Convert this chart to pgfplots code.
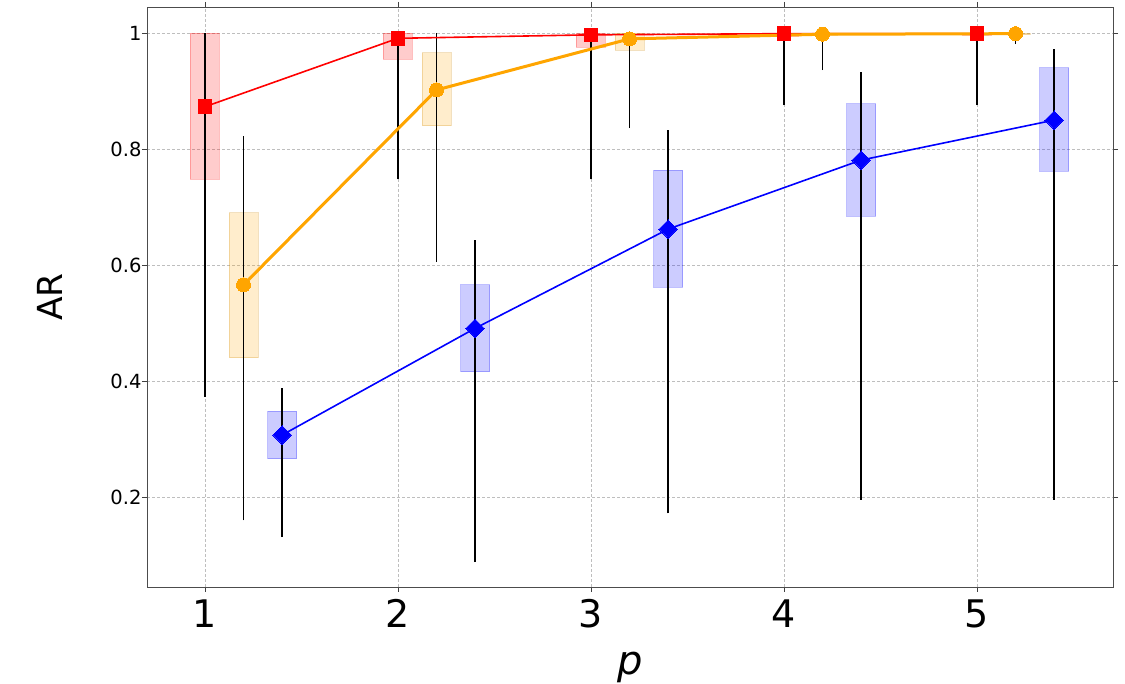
\documentclass[border=0pt]{standalone}
\usepackage{pgfplots}
\pgfplotsset{compat=1.18}
\usepackage{fontspec}
\setmainfont{DejaVu Sans}
\definecolor{mred}{RGB}{255,0,0}
\definecolor{morange}{RGB}{255,165,0}
\definecolor{mblue}{RGB}{0,0,255}
\definecolor{gridc}{RGB}{190,190,190}
\begin{document}
\begin{tikzpicture}[x=1pt,y=1pt]
\useasboundingbox (0,0) rectangle (1125,684);
\begin{axis}[
  at={(147pt,97pt)}, anchor=south west,
  scale only axis, width=966pt, height=580pt,
  xmin=0.70, xmax=5.705, ymin=0.045, ymax=1.045,
  xtick={1,2,3,4,5}, ytick={0.2,0.4,0.6,0.8,1},
  yticklabels={0.2,0.4,0.6,0.8,1},
  tick align=outside, major tick length=5pt,
  tick style={color=black!75, line width=0.8pt},
  axis line style={color=black!70, line width=0.8pt},
  grid=major, major grid style={dash pattern=on 3pt off 2pt, color=gridc, line width=0.7pt},
  /pgf/number format/assume math mode=true,
  xticklabel style={font=\fontsize{38}{40}\selectfont, yshift=-4pt},
  yticklabel style={font=\fontsize{19.5}{22}\selectfont, xshift=3pt},
  xlabel={\itshape p}, ylabel={AR},
  xlabel style={font=\fontsize{40}{44}\selectfont, at={(axis description cs:0.5,-0.138)}, anchor=center},
  ylabel style={font=\fontsize{34.5}{38}\selectfont, at={(axis description cs:-0.100,0.5)}, anchor=center, rotate=0},
  clip=true,
]
% ---- boxes (interquartile ranges) ----
\pgfplotsset{rbox/.style={fill=mred, fill opacity=0.2, draw=mred, draw opacity=0.25, line width=0.8pt},
             obox/.style={fill=morange, fill opacity=0.2, draw=morange!80!black, draw opacity=0.25, line width=0.8pt},
             bbox/.style={fill=mblue, fill opacity=0.2, draw=mblue, draw opacity=0.25, line width=0.8pt},
             wh/.style={black, line width=1.8pt}}
% red
\addplot[rbox] coordinates {(0.925,0.748) (1.075,0.748) (1.075,1.0) (0.925,1.0)} --cycle;
\addplot[rbox] coordinates {(1.925,0.955) (2.075,0.955) (2.075,1.0) (1.925,1.0)} --cycle;
\addplot[rbox] coordinates {(2.925,0.976) (3.075,0.976) (3.075,1.0) (2.925,1.0)} --cycle;
\addplot[rbox] coordinates {(3.925,0.995) (4.075,0.995) (4.075,1.0) (3.925,1.0)} --cycle;
\addplot[rbox] coordinates {(4.925,0.996) (5.075,0.996) (5.075,1.0) (4.925,1.0)} --cycle;
% orange
\addplot[obox] coordinates {(1.125,0.440) (1.275,0.440) (1.275,0.690) (1.125,0.690)} --cycle;
\addplot[obox] coordinates {(2.125,0.840) (2.275,0.840) (2.275,0.966) (2.125,0.966)} --cycle;
\addplot[obox] coordinates {(3.125,0.971) (3.275,0.971) (3.275,1.0) (3.125,1.0)} --cycle;
\addplot[obox] coordinates {(4.125,0.996) (4.275,0.996) (4.275,1.0) (4.125,1.0)} --cycle;
\addplot[obox] coordinates {(5.125,0.997) (5.275,0.997) (5.275,1.0) (5.125,1.0)} --cycle;
% blue
\addplot[bbox] coordinates {(1.325,0.266) (1.475,0.266) (1.475,0.348) (1.325,0.348)} --cycle;
\addplot[bbox] coordinates {(2.325,0.416) (2.475,0.416) (2.475,0.566) (2.325,0.566)} --cycle;
\addplot[bbox] coordinates {(3.325,0.562) (3.475,0.562) (3.475,0.764) (3.325,0.764)} --cycle;
\addplot[bbox] coordinates {(4.325,0.684) (4.475,0.684) (4.475,0.878) (4.325,0.878)} --cycle;
\addplot[bbox] coordinates {(5.325,0.762) (5.475,0.762) (5.475,0.940) (5.325,0.940)} --cycle;
% ---- whiskers ----
\addplot[wh] coordinates {(1,0.373) (1,1.0)};
\addplot[wh] coordinates {(2,0.748) (2,1.0)};
\addplot[wh] coordinates {(3,0.748) (3,1.0)};
\addplot[wh] coordinates {(4,0.876) (4,1.0)};
\addplot[wh] coordinates {(5,0.876) (5,1.0)};
\addplot[wh] coordinates {(1.2,0.160) (1.2,0.822)};
\addplot[wh] coordinates {(2.2,0.605) (2.2,1.0)};
\addplot[wh] coordinates {(3.2,0.836) (3.2,1.0)};
\addplot[wh] coordinates {(4.2,0.936) (4.2,1.0)};
\addplot[wh] coordinates {(5.2,0.981) (5.2,1.0)};
\addplot[wh] coordinates {(1.4,0.131) (1.4,0.388)};
\addplot[wh] coordinates {(2.4,0.088) (2.4,0.643)};
\addplot[wh] coordinates {(3.4,0.172) (3.4,0.833)};
\addplot[wh] coordinates {(4.4,0.195) (4.4,0.933)};
\addplot[wh] coordinates {(5.4,0.195) (5.4,0.972)};
% ---- medians ----
\addplot[mblue, line width=1.6pt, mark=square*, mark size=6.5pt, mark options={rotate=45, fill=mblue, draw=mblue, line width=0pt}]
  coordinates {(1.4,0.307) (2.4,0.491) (3.4,0.662) (4.4,0.781) (5.4,0.850)};
\addplot[mred, line width=1.6pt, mark=square*, mark size=6.8pt, mark options={fill=mred, draw=mred, line width=0pt}]
  coordinates {(1,0.873) (2,0.991) (3,0.997) (4,0.999) (5,0.999)};
\addplot[morange, line width=3pt, mark=*, mark size=7pt, mark options={fill=morange, draw=morange, line width=0pt}]
  coordinates {(1.2,0.566) (2.2,0.902) (3.2,0.990) (4.2,0.998) (5.2,0.999)};
\end{axis}
\end{tikzpicture}
\end{document}
